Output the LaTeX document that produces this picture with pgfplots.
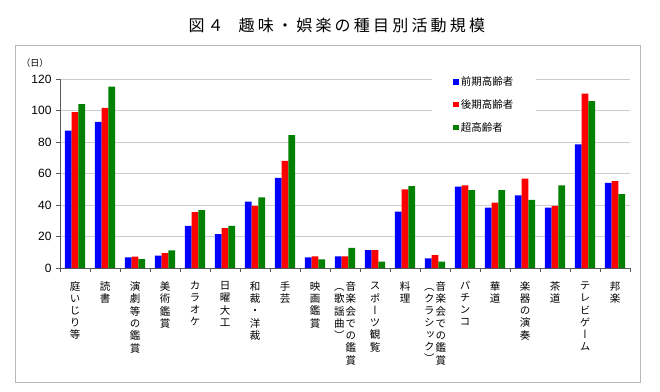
\documentclass[border=0pt]{standalone}
\usepackage{fontspec}
\setmainfont{Liberation Sans}
\newfontfamily\cjk{Noto Sans CJK JP}
\newfontfamily\cjkt[LetterSpace=20]{Noto Sans CJK JP}
\newfontfamily\cjkv[RawFeature=+vert]{Noto Sans CJK JP}
\usepackage{pgfplots}
\usepackage{pgfplotstable}
\pgfplotsset{compat=1.18}
\definecolor{cblue}{RGB}{0,0,255}
\definecolor{cred}{RGB}{255,0,0}
\definecolor{cgreen}{RGB}{0,128,0}
\newcommand\vt[1]{{\renewcommand\arraystretch{1}\setlength\tabcolsep{0pt}\begin{tabular}[t]{c}#1\end{tabular}}}
\pgfplotstableread{
cat b r g
1 87.2 98.9 104.0
2 92.8 101.7 115.2
3 6.7 7.2 5.7
4 7.8 9.5 11.2
5 26.7 35.4 36.8
6 21.5 25.3 26.7
7 42.1 39.4 44.8
8 57.3 68.0 84.4
9 6.7 7.4 5.5
10 7.4 7.4 12.8
11 11.4 11.4 4.0
12 35.8 49.9 52.0
13 6.1 8.2 4.0
14 51.6 52.4 49.5
15 38.3 41.5 49.5
16 46.1 56.8 43.2
17 38.3 39.4 52.4
18 78.5 110.7 105.9
19 54.1 55.2 46.9
}\datatable
\begin{document}
\begin{tikzpicture}
\useasboundingbox (0pt,0pt) rectangle (660pt,391pt);
\draw[gray!55, line width=0.8pt] (15pt,9pt) rectangle (640pt,346pt);
\node[font=\cjkt\fontsize{16}{16}\selectfont, anchor=west] at (185pt,366pt) {図４\hspace{15pt}趣味・娯楽の種目別活動規模};
\node[font=\cjk\fontsize{9}{9}\selectfont, anchor=east] at (52pt,328pt) {（日）};
\begin{axis}[
  at={(60pt,123pt)}, anchor=south west,
  scale only axis, width=570pt, height=189pt,
  xmin=0.5, xmax=19.5, ymin=0, ymax=120,
  ytick={0,20,...,120},
  ymajorgrids, grid style={gray!40, line width=0.6pt},
  axis x line*=bottom, axis y line*=left,
  axis line style={-, gray!70!black, line width=0.6pt},
  every outer x axis line/.append style={-},
  every outer y axis line/.append style={-},
  tick align=outside, major tick length=4pt,
  y tick style={gray!70!black},
  x tick style={draw=none},
  /pgf/number format/assume math mode=true,
  yticklabel style={font=\fontsize{12}{14}\selectfont, xshift=-1pt},
  xtick={1,...,19},
  xticklabel style={font=\cjkv\fontsize{10.5}{12}\selectfont, anchor=north, yshift=-6pt},
  xticklabels={
    {\vt{庭\\い\\じ\\り\\等}},
    {\vt{読\\書}},
    {\vt{演\\劇\\等\\の\\鑑\\賞}},
    {\vt{美\\術\\鑑\\賞}},
    {\vt{カ\\ラ\\オ\\ケ}},
    {\vt{日\\曜\\大\\工}},
    {\vt{和\\裁\\・\\洋\\裁}},
    {\vt{手\\芸}},
    {\vt{映\\画\\鑑\\賞}},
    {\vt{（\\歌\\謡\\曲\\）}\hspace{1pt}\vt{音\\楽\\会\\で\\の\\鑑\\賞}},
    {\vt{ス\\ポ\\ー\\ツ\\観\\覧}},
    {\vt{料\\理}},
    {\vt{（\\ク\\ラ\\シ\\ッ\\ク\\）}\hspace{1pt}\vt{音\\楽\\会\\で\\の\\鑑\\賞}},
    {\vt{パ\\チ\\ン\\コ}},
    {\vt{華\\道}},
    {\vt{楽\\器\\の\\演\\奏}},
    {\vt{茶\\道}},
    {\vt{テ\\レ\\ビ\\ゲ\\ー\\ム}},
    {\vt{邦\\楽}}
  },
  extra x ticks={0.5,1.5,...,19.5},
  extra x tick labels={},
  extra x tick style={grid=none, x tick style={draw=gray!70!black}},
  ybar=0pt, bar width=6.7pt,
  legend style={at={(0.653,1.045)}, anchor=north west, draw=none, fill=white,
    font=\cjk\fontsize{10.5}{12}\selectfont, row sep=8.5pt, inner xsep=21pt, inner ysep=4pt,
    cells={anchor=west}},
  legend image code/.code={\fill[#1] (0pt,-2.7pt) rectangle (5.5pt,2.7pt);},
]
\addplot[fill=cblue, draw=none] table[x=cat,y=b]{\datatable};
\addplot[fill=cred, draw=none] table[x=cat,y=r]{\datatable};
\addplot[fill=cgreen, draw=none] table[x=cat,y=g]{\datatable};
\legend{前期高齢者,後期高齢者,超高齢者}
\end{axis}
\end{tikzpicture}
\end{document}
